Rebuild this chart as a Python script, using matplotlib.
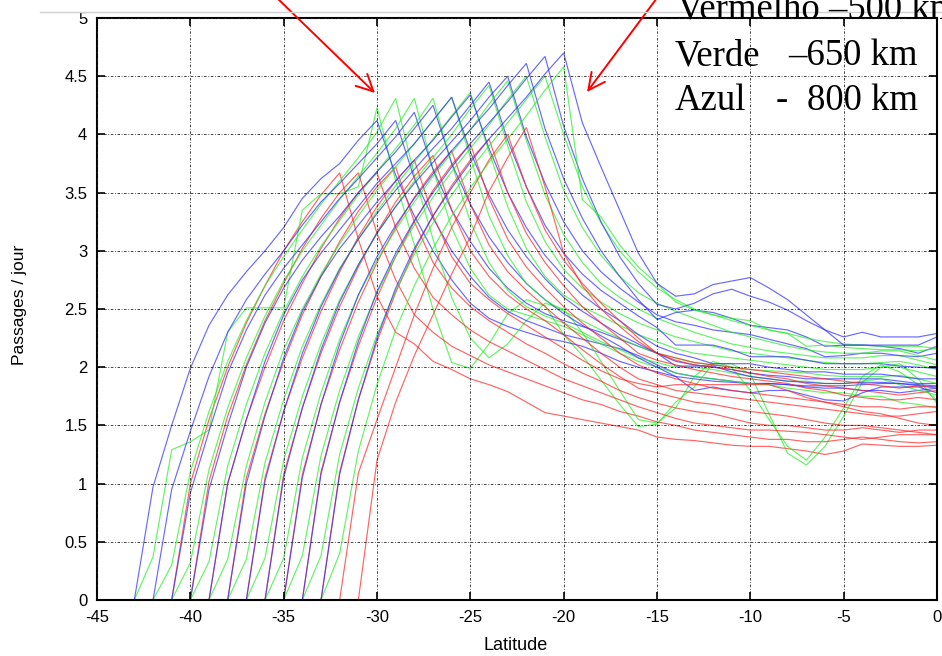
import numpy as np
import matplotlib
matplotlib.use("Agg")
import matplotlib.pyplot as plt
from matplotlib.lines import Line2D

plt.rcParams['axes.unicode_minus'] = False

# ---------------- data (latitude step = 1 degree, each series ends at 0) ----------------
# Blue (800 km) series, named by starting latitude
b43 = [0, 0.97, 1.50, 1.99, 2.36, 2.62, 2.82, 3.00, 3.20, 3.45, 3.62, 3.75, 3.95, 4.12,
       3.65, 3.30, 3.00, 2.75, 2.55, 2.42, 2.35, 2.30, 2.25, 2.22, 2.18, 2.12, 2.05, 2.00,
       1.96, 1.92, 1.90, 1.88, 1.87, 1.86, 1.86, 1.85, 1.83, 1.82, 1.82, 1.80, 1.80, 1.78, 1.80, 1.82]
b42 = [0, 0.95, 1.45, 1.92, 2.30, 2.58, 2.80, 3.00, 3.22, 3.42, 3.58, 3.75, 3.92, 4.12,
       3.62, 3.28, 3.00, 2.78, 2.60, 2.48, 2.40, 2.34, 2.28, 2.24, 2.20, 2.16, 2.10, 2.02,
       1.95, 1.92, 1.90, 1.88, 1.86, 1.86, 1.85, 1.84, 1.84, 1.84, 1.85, 1.86, 1.86, 1.85, 1.84]
b41 = [0, 0.92, 1.45, 1.95, 2.32, 2.62, 2.85, 3.05, 3.25, 3.45, 3.62, 3.80, 3.98, 4.19,
       3.70, 3.35, 3.08, 2.85, 2.68, 2.55, 2.46, 2.40, 2.35, 2.30, 2.24, 2.18, 2.12,
       2.05, 2.02, 2.00, 1.98, 1.95, 1.93, 1.92, 1.90, 1.90, 1.90, 1.90, 1.90, 1.88, 1.86, 1.86]
b40 = [0, 0.95, 1.50, 2.00, 2.38, 2.68, 2.92, 3.12, 3.30, 3.50, 3.68, 3.85, 4.05, 4.25,
       3.75, 3.40, 3.12, 2.90, 2.72, 2.58, 2.46, 2.36, 2.27, 2.18, 2.08, 2.00,
       1.92, 1.80, 1.83, 1.80, 1.78, 1.80, 1.80, 1.76, 1.72, 1.71, 1.78, 1.83, 1.83, 1.83, 1.78]
b39 = [0, 1.00, 1.55, 2.05, 2.45, 2.75, 2.98, 3.18, 3.38, 3.58, 3.75, 3.92, 4.12, 4.32,
       3.85, 3.48, 3.18, 2.95, 2.76, 2.60, 2.48, 2.38, 2.28, 2.20, 2.12,
       2.01, 2.01, 2.01, 1.96, 1.92, 1.90, 1.88, 1.87, 1.86, 1.86, 1.87, 1.87, 1.86, 1.84, 1.83]
b38 = [0, 1.00, 1.58, 2.08, 2.48, 2.78, 3.02, 3.22, 3.42, 3.60, 3.78, 3.95, 4.15, 4.34,
       3.88, 3.50, 3.20, 2.96, 2.78, 2.62, 2.50, 2.40, 2.28, 2.18,
       2.12, 2.08, 2.03, 2.03, 2.03, 2.00, 1.98, 1.96, 1.96, 1.94, 1.94, 1.94, 1.92, 1.90, 1.90]
b37 = [0, 1.02, 1.62, 2.12, 2.52, 2.84, 3.10, 3.32, 3.52, 3.70, 3.88, 4.05, 4.25, 4.45,
       3.95, 3.55, 3.22, 2.98, 2.80, 2.66, 2.55, 2.44, 2.34,
       2.19, 2.19, 2.19, 2.15, 2.09, 2.09, 2.09, 2.06, 2.03, 2.03, 2.03, 2.03, 2.01, 2.00, 1.99]
b36 = [0, 1.05, 1.65, 2.15, 2.56, 2.88, 3.15, 3.38, 3.58, 3.76, 3.94, 4.12, 4.32, 4.50,
       3.98, 3.58, 3.25, 3.00, 2.82, 2.68, 2.56, 2.45,
       2.39, 2.36, 2.32, 2.30, 2.28, 2.24, 2.20, 2.16, 2.09, 2.10, 2.12, 2.12, 2.10, 2.09, 2.12]
b35 = [0, 1.05, 1.68, 2.20, 2.62, 2.95, 3.22, 3.45, 3.66, 3.86, 4.04, 4.22, 4.42, 4.61,
       4.05, 3.62, 3.28, 3.00, 2.78, 2.58, 2.41,
       2.47, 2.49, 2.47, 2.42, 2.36, 2.34, 2.32, 2.26, 2.18, 2.19, 2.19, 2.18, 2.16, 2.12, 2.18]
b34 = [0, 1.08, 1.70, 2.22, 2.65, 2.98, 3.26, 3.50, 3.72, 3.92, 4.10, 4.28, 4.48, 4.67,
       4.07, 3.62, 3.25, 2.95, 2.72, 2.54,
       2.50, 2.55, 2.63, 2.67, 2.61, 2.56, 2.49, 2.40, 2.32, 2.19, 2.19, 2.19, 2.19, 2.19, 2.26]
b33 = [0, 1.08, 1.72, 2.25, 2.68, 3.02, 3.30, 3.54, 3.76, 3.96, 4.14, 4.32, 4.52, 4.70,
       4.10, 3.72, 3.35, 2.98, 2.72,
       2.61, 2.63, 2.71, 2.74, 2.77, 2.68, 2.58, 2.45, 2.32, 2.26, 2.30, 2.26, 2.26, 2.26, 2.29]

# Green (650 km) series
g43 = [0, 0.37, 1.29, 1.36, 1.46, 2.30, 2.51, 2.51, 2.51, 3.35, 3.49, 3.49, 3.55, 4.23,
       3.60, 3.05, 2.50, 2.04, 1.99, 2.20, 2.46, 2.58, 2.53, 2.28,
       2.10, 1.89, 1.68, 1.49, 1.51, 1.70, 1.83, 2.03, 2.03, 1.94,
       1.60, 1.26, 1.16, 1.32, 1.58, 1.87, 2.00, 2.03, 1.90, 1.69]
g42 = [0, 0.30, 1.10, 1.62, 2.05, 2.40, 2.70, 2.95, 3.18, 3.40, 3.60, 3.80, 4.02, 4.31,
       3.65, 3.10, 2.60, 2.25, 2.08, 2.20, 2.40, 2.55, 2.50, 2.30,
       2.05, 1.80, 1.55, 1.52, 1.65, 1.92, 2.05, 2.00, 1.80, 1.55,
       1.32, 1.20, 1.40, 1.65, 1.92, 2.02, 1.96, 1.85, 1.72]
g41 = [0, 0.32, 1.12, 1.65, 2.08, 2.44, 2.74, 3.00, 3.22, 3.44, 3.64, 3.84, 4.05, 4.31,
       3.70, 3.20, 2.85, 2.62, 2.50, 2.45, 2.40, 2.35, 2.28, 2.20,
       2.12, 2.05, 2.00, 1.95, 1.92, 1.90, 1.88, 1.86, 1.85, 1.82,
       1.80, 1.78, 1.78, 1.75, 1.75, 1.70, 1.68, 1.65]
g40 = [0, 0.33, 1.15, 1.68, 2.12, 2.48, 2.78, 3.04, 3.26, 3.48, 3.68, 3.88, 4.08, 4.31,
       3.75, 3.25, 2.90, 2.66, 2.52, 2.44, 2.38, 2.30, 2.22, 2.15,
       2.08, 2.04, 2.00, 2.00, 1.98, 1.95, 1.92, 1.90, 1.88, 1.88,
       1.86, 1.86, 1.88, 1.90, 1.85, 1.80, 1.76]
g39 = [0, 0.35, 1.15, 1.70, 2.15, 2.50, 2.80, 3.06, 3.30, 3.52, 3.72, 3.92, 4.12, 4.32,
       3.80, 3.30, 2.96, 2.72, 2.58, 2.48, 2.40, 2.32, 2.25, 2.18,
       2.12, 2.08, 2.04, 2.02, 2.00, 1.98, 1.97, 1.96, 1.95, 1.93, 1.92, 1.92, 1.92, 1.93, 1.90, 1.86]
g38 = [0, 0.35, 1.18, 1.72, 2.18, 2.54, 2.85, 3.10, 3.34, 3.56, 3.76, 3.96, 4.16, 4.36,
       3.85, 3.38, 3.02, 2.78, 2.62, 2.52, 2.44, 2.36, 2.28,
       2.22, 2.16, 2.12, 2.10, 2.08, 2.06, 2.04, 2.02, 2.00, 1.98, 1.98, 1.98, 2.00, 2.00, 1.96, 1.92]
g37 = [0, 0.36, 1.20, 1.75, 2.20, 2.58, 2.88, 3.15, 3.38, 3.60, 3.80, 4.00, 4.22, 4.42,
       3.90, 3.42, 3.08, 2.84, 2.68, 2.56, 2.46, 2.38,
       2.32, 2.26, 2.22, 2.18, 2.14, 2.12, 2.10, 2.08, 2.06, 2.04, 2.03, 2.03, 2.04, 2.05, 2.02, 1.98]
g36 = [0, 0.36, 1.22, 1.78, 2.24, 2.62, 2.92, 3.18, 3.42, 3.64, 3.84, 4.04, 4.26, 4.46,
       3.95, 3.48, 3.14, 2.90, 2.72, 2.60, 2.50,
       2.42, 2.36, 2.30, 2.25, 2.20, 2.17, 2.14, 2.12, 2.10, 2.08, 2.08, 2.08, 2.10, 2.10, 2.06, 2.02]
g35 = [0, 0.38, 1.24, 1.80, 2.26, 2.64, 2.95, 3.22, 3.46, 3.68, 3.88, 4.08, 4.30, 4.50,
       3.98, 3.52, 3.20, 2.96, 2.78, 2.64,
       2.55, 2.48, 2.42, 2.36, 2.30, 2.26, 2.22, 2.18, 2.15, 2.13, 2.12, 2.12, 2.14, 2.14, 2.10, 2.06]
g34 = [0, 0.38, 1.25, 1.82, 2.28, 2.66, 2.97, 3.24, 3.48, 3.70, 3.90, 4.10, 4.30, 4.50,
       4.00, 3.55, 3.24, 3.00, 2.82,
       2.68, 2.58, 2.50, 2.45, 2.40, 2.36, 2.32, 2.29, 2.25, 2.22, 2.20, 2.19, 2.18, 2.18, 2.18, 2.16]
g33 = [0, 0.40, 1.28, 1.85, 2.32, 2.70, 3.02, 3.30, 3.54, 3.76, 3.96, 4.16, 4.38, 4.58,
       3.44, 3.29, 3.05, 2.86,
       2.72, 2.56, 2.49, 2.45, 2.42, 2.40, 2.32, 2.29, 2.18, 2.19, 2.17, 2.16, 2.15, 2.15, 2.14, 2.16]

# Red (500 km) series
r41 = [0, 1.00, 1.55, 2.00, 2.38, 2.70, 3.00, 3.25, 3.48, 3.67,
       3.10, 2.61, 2.30, 2.20, 2.05, 1.98, 1.90, 1.85, 1.79, 1.70, 1.61, 1.58, 1.55, 1.52, 1.49, 1.46,
       1.40, 1.38, 1.37, 1.35, 1.33, 1.32, 1.32, 1.30, 1.28, 1.25, 1.28, 1.34, 1.33, 1.32, 1.32, 1.33]
r40 = [0, 1.02, 1.58, 2.02, 2.40, 2.72, 3.02, 3.28, 3.50, 3.67,
       3.15, 2.75, 2.45, 2.30, 2.18, 2.10, 2.02, 1.96, 1.90, 1.84, 1.78, 1.72, 1.68, 1.62, 1.58,
       1.53, 1.50, 1.46, 1.44, 1.42, 1.40, 1.38, 1.38, 1.36, 1.36, 1.38, 1.40, 1.38, 1.36, 1.35, 1.36]
r39 = [0, 1.00, 1.55, 2.00, 2.40, 2.72, 3.02, 3.28, 3.50, 3.67,
       3.20, 2.85, 2.60, 2.45, 2.32, 2.22, 2.14, 2.06, 1.98, 1.90, 1.84, 1.78, 1.72, 1.66,
       1.61, 1.56, 1.52, 1.50, 1.48, 1.46, 1.46, 1.45, 1.44, 1.42, 1.40, 1.38, 1.40, 1.42, 1.42, 1.42]
r38 = [0, 1.05, 1.60, 2.05, 2.45, 2.78, 3.08, 3.34, 3.55, 3.72,
       3.25, 2.90, 2.68, 2.52, 2.40, 2.30, 2.20, 2.12, 2.03, 1.95, 1.88, 1.80, 1.74,
       1.69, 1.65, 1.62, 1.60, 1.56, 1.52, 1.50, 1.50, 1.48, 1.46, 1.46, 1.48, 1.46, 1.44, 1.46, 1.46]
r37 = [0, 1.05, 1.62, 2.08, 2.48, 2.82, 3.12, 3.38, 3.60, 3.78,
       3.30, 2.95, 2.72, 2.58, 2.46, 2.36, 2.26, 2.16, 2.06, 1.97, 1.90, 1.86,
       1.83, 1.85, 1.85, 1.85, 1.85, 1.85, 1.85, 1.80, 1.74, 1.70, 1.66, 1.62, 1.60, 1.56, 1.52, 1.50]
r36 = [0, 1.08, 1.65, 2.12, 2.52, 2.86, 3.16, 3.42, 3.64, 3.82,
       3.35, 3.00, 2.78, 2.62, 2.50, 2.40, 2.28, 2.15, 2.03, 1.92, 1.82,
       1.78, 1.74, 1.70, 1.68, 1.65, 1.62, 1.60, 1.58, 1.55, 1.52, 1.50, 1.50, 1.48, 1.46, 1.44, 1.42]
r35 = [0, 1.08, 1.68, 2.15, 2.56, 2.90, 3.20, 3.46, 3.68, 3.86,
       3.40, 3.05, 2.82, 2.66, 2.52, 2.38, 2.25, 2.12, 2.00, 1.90,
       1.85, 1.80, 1.78, 1.76, 1.74, 1.72, 1.70, 1.68, 1.66, 1.64, 1.62, 1.60, 1.58, 1.58, 1.60, 1.62]
r34 = [0, 1.10, 1.70, 2.18, 2.60, 2.95, 3.25, 3.52, 3.74, 3.92,
       3.45, 3.10, 2.86, 2.68, 2.52, 2.38, 2.25, 2.12, 2.02,
       1.95, 1.90, 1.86, 1.82, 1.80, 1.78, 1.76, 1.74, 1.72, 1.70, 1.68, 1.66, 1.66, 1.64, 1.66, 1.66]
r33 = [0, 1.10, 1.72, 2.22, 2.64, 3.00, 3.30, 3.56, 3.78, 3.96,
       3.50, 3.15, 2.90, 2.70, 2.52, 2.38, 2.25, 2.12,
       2.06, 2.02, 1.98, 1.95, 1.92, 1.90, 1.88, 1.86, 1.82, 1.80, 1.76, 1.74, 1.72, 1.72, 1.74, 1.72]
r32 = [0, 1.09, 1.55, 2.00, 2.45, 2.85, 3.20, 3.50, 3.78, 4.00,
       3.55, 3.18, 2.92, 2.72, 2.55, 2.40, 2.25,
       2.12, 2.06, 2.02, 2.00, 1.98, 1.95, 1.92, 1.90, 1.86, 1.84, 1.82, 1.80, 1.78, 1.76, 1.78, 1.80]
r31 = [0, 1.20, 1.70, 2.10, 2.45, 2.80, 3.12, 3.51, 3.80, 4.06,
       3.55, 2.98, 2.70, 2.50, 2.35, 2.22,
       2.12, 2.08, 2.04, 2.02, 2.00, 1.98, 1.96, 1.94, 1.92, 1.90, 1.88, 1.86, 1.84, 1.82, 1.84, 1.82]

blue_series = [(-43, b43), (-42, b42), (-41, b41), (-40, b40), (-39, b39), (-38, b38),
               (-37, b37), (-36, b36), (-35, b35), (-34, b34), (-33, b33)]
green_series = [(-43, g43), (-42, g42), (-41, g41), (-40, g40), (-39, g39), (-38, g38),
                (-37, g37), (-36, g36), (-35, g35), (-34, g34), (-33, g33)]
red_series = [(-41, r41), (-40, r40), (-39, r39), (-38, r38), (-37, r37), (-36, r36),
              (-35, r35), (-34, r34), (-33, r33), (-32, r32), (-31, r31)]

x_ticks = [-45, -40, -35, -30, -25, -20, -15, -10, -5, 0]
y_ticks = [0, 0.5, 1, 1.5, 2, 2.5, 3, 3.5, 4, 4.5, 5]
y_ticklabels = ['0', '0.5', '1', '1.5', '2', '2.5', '3', '3.5', '4', '4.5', '5']

for grp in (blue_series, green_series, red_series):
    for s, v in grp:
        assert s + len(v) - 1 == 0, (s, len(v))

# ---------------- figure ----------------
W, H = 942, 656
fig = plt.figure(figsize=(W / 100, H / 100), dpi=100)
fig.patch.set_facecolor('white')
ax = fig.add_axes([97 / W, 1 - 600 / H, (937 - 97) / W, (600 - 18) / H])

cols = {'b': '#2a2aff', 'g': '#22ee22', 'r': '#ff2222'}
for i in range(11):
    for grp, c in ((red_series, 'r'), (green_series, 'g'), (blue_series, 'b')):
        s, v = grp[i]
        xs = np.arange(s, s + len(v))
        ax.plot(xs, v, color=cols[c], lw=0.85, alpha=0.7, solid_joinstyle='miter')

ax.set_xlim(-45, 0)
ax.set_ylim(0, 5)
ax.set_xticks(x_ticks)
ax.set_xticklabels([str(t) for t in x_ticks], fontsize=12, family='Liberation Sans')
ax.set_yticks(y_ticks)
ax.set_yticklabels(y_ticklabels, fontsize=12, family='Liberation Sans')
ax.tick_params(direction='in', top=True, right=True, length=6, width=1.2, pad=7)
ax.grid(True, color='#222222', linestyle=(0, (3, 2, 1, 2)), linewidth=0.6)
ax.set_axisbelow(False)
for sp in ax.spines.values():
    sp.set_linewidth(1.5)

fig.text(20 / W, 1 - 305 / H, 'Passages / jour', rotation=90, ha='center', va='center',
         fontsize=12.5, family='Liberation Sans')
fig.text(516 / W, 1 - 645 / H, 'Latitude', ha='center', va='center',
         fontsize=13, family='Liberation Sans')

# light slide border line at top
fig.add_artist(Line2D([40 / W, 1], [1 - 12 / H, 1 - 12 / H], color='#d0d0d0', lw=1))

# overlay legend text (serif)
tf = dict(fontsize=26.5, family='Liberation Serif', va='baseline', ha='left', color='black')
fig.text(677 / W, 1 - 20 / H, 'Vermelho \u2013500 km', **tf)
fig.text(675 / W, 1 - 65 / H, 'Verde', **tf)
fig.text(788 / W, 1 - 65 / H, '\u2013650 km', **tf)
fig.text(675 / W, 1 - 110 / H, 'Azul', **tf)
fig.text(776 / W, 1 - 110 / H, '-', **tf)
fig.text(807 / W, 1 - 110 / H, '800 km', **tf)

# red arrows
ap = dict(arrowstyle='->,head_length=0.6,head_width=0.3', color='red', lw=1.4,
          mutation_scale=20, shrinkA=0, shrinkB=0)
fig.add_artist(matplotlib.patches.FancyArrowPatch((277, H + 2), (375, H - 93),
               transform=None, **ap))
fig.add_artist(matplotlib.patches.FancyArrowPatch((657, H + 2), (587, H - 92),
               transform=None, **ap))

fig.savefig('out.png', dpi=100, facecolor='white')
